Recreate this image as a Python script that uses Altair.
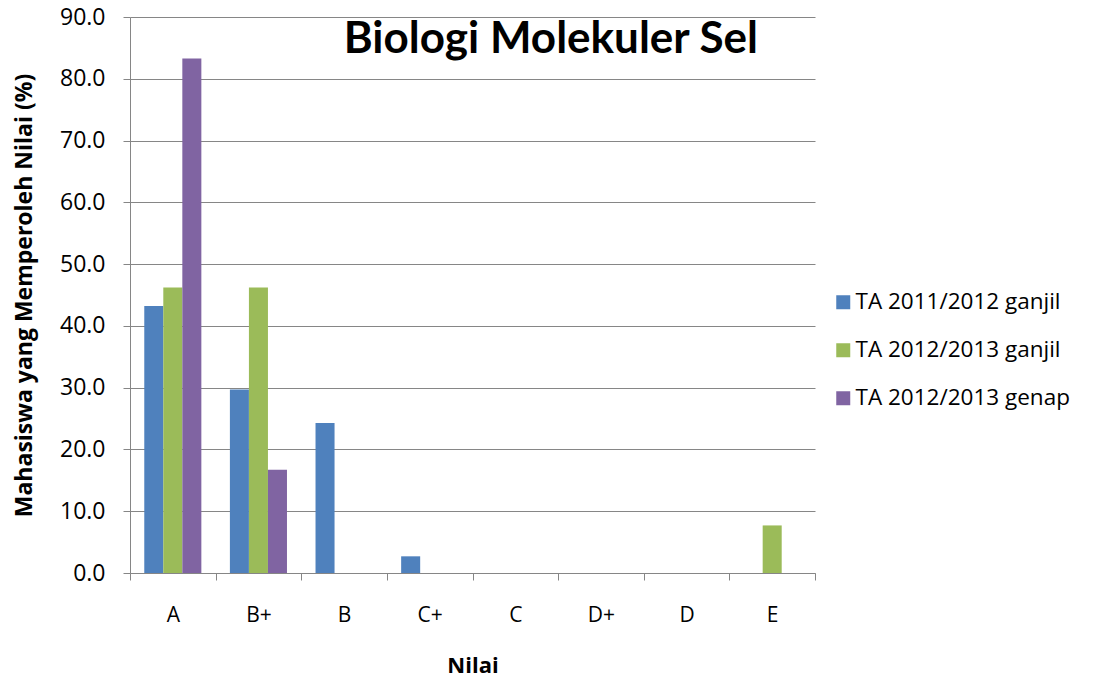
import altair as alt
import pandas as pd

grades = ["A", "B+", "B", "C+", "C", "D+", "D", "E"]
series = ["TA 2011/2012 ganjil", "TA 2012/2013 ganjil", "TA 2012/2013 genap"]
vals_2011_ganjil = [43.2, 29.7, 24.3, 2.7, 0.0, 0.0, 0.0, 0.0]
vals_2012_ganjil = [46.2, 46.2, 0.0, 0.0, 0.0, 0.0, 0.0, 7.7]
vals_2012_genap = [83.3, 16.7, 0.0, 0.0, 0.0, 0.0, 0.0, 0.0]
colors = ["#4F81BD", "#9BBB59", "#8064A2"]
y_ticks = [0, 10, 20, 30, 40, 50, 60, 70, 80, 90]

rows = []
for s, vals in zip(series, [vals_2011_ganjil, vals_2012_ganjil, vals_2012_genap]):
    for g, v in zip(grades, vals):
        rows.append({"Nilai": g, "Seri": s, "Persen": v})
df = pd.DataFrame(rows)

LFONT = "Open Sans"
TFONT = "Lato"
GRID = "#868686"

chart = alt.Chart(df).mark_bar().encode(
    x=alt.X("Nilai:N", sort=grades,
            scale=alt.Scale(paddingInner=0, paddingOuter=0),
            axis=alt.Axis(title="Nilai", labelAngle=0, tickBand="extent",
                          tickSize=7, tickColor=GRID, domainColor=GRID,
                          labelPadding=24, titlePadding=30,
                          labelFontSize=21, titleFontSize=22, titleFontWeight="bold",
                          labelFont=LFONT, titleFont=LFONT,
                          labelColor="black", titleColor="black")),
    xOffset=alt.XOffset("Seri:N", sort=series,
                        scale=alt.Scale(paddingInner=0, paddingOuter=0.75)),
    y=alt.Y("Persen:Q", scale=alt.Scale(domain=[0, 90], nice=False),
            axis=alt.Axis(title="Mahasiswa yang Memperoleh Nilai (%)", values=y_ticks,
                          format=".1f", tickSize=7, tickColor=GRID, domainColor=GRID,
                          gridColor=GRID, gridOpacity=1, labelPadding=18,
                          titlePadding=23, labelFontSize=23, titleFontSize=23,
                          labelFont=LFONT, titleFont=LFONT,
                          titleFontWeight="bold", labelColor="black", titleColor="black")),
    color=alt.Color("Seri:N", sort=series,
                    scale=alt.Scale(domain=series, range=colors),
                    legend=alt.Legend(title="", orient="none", legendX=702, legendY=274,
                                      symbolType="square", symbolSize=196,
                                      symbolStrokeWidth=0, labelFontSize=22.5,
                                      labelFont=LFONT, labelLimit=400,
                                      labelColor="black", rowPadding=25, labelOffset=1)),
).properties(
    width=685,
    height=556,
    title=alt.TitleParams("Biologi Molekuler Sel", anchor="end", frame="group",
                          fontSize=44, fontWeight="bold", font=TFONT, color="black",
                          baseline="top", offset=0, dx=-57, dy=56),
    autosize=alt.AutoSizeParams(type="none"),
    padding={"left": 122, "top": 9, "right": 285, "bottom": 106},
).configure_view(stroke=None)

chart.save("out.html", embed_options={"renderer": "svg", "actions": False})
